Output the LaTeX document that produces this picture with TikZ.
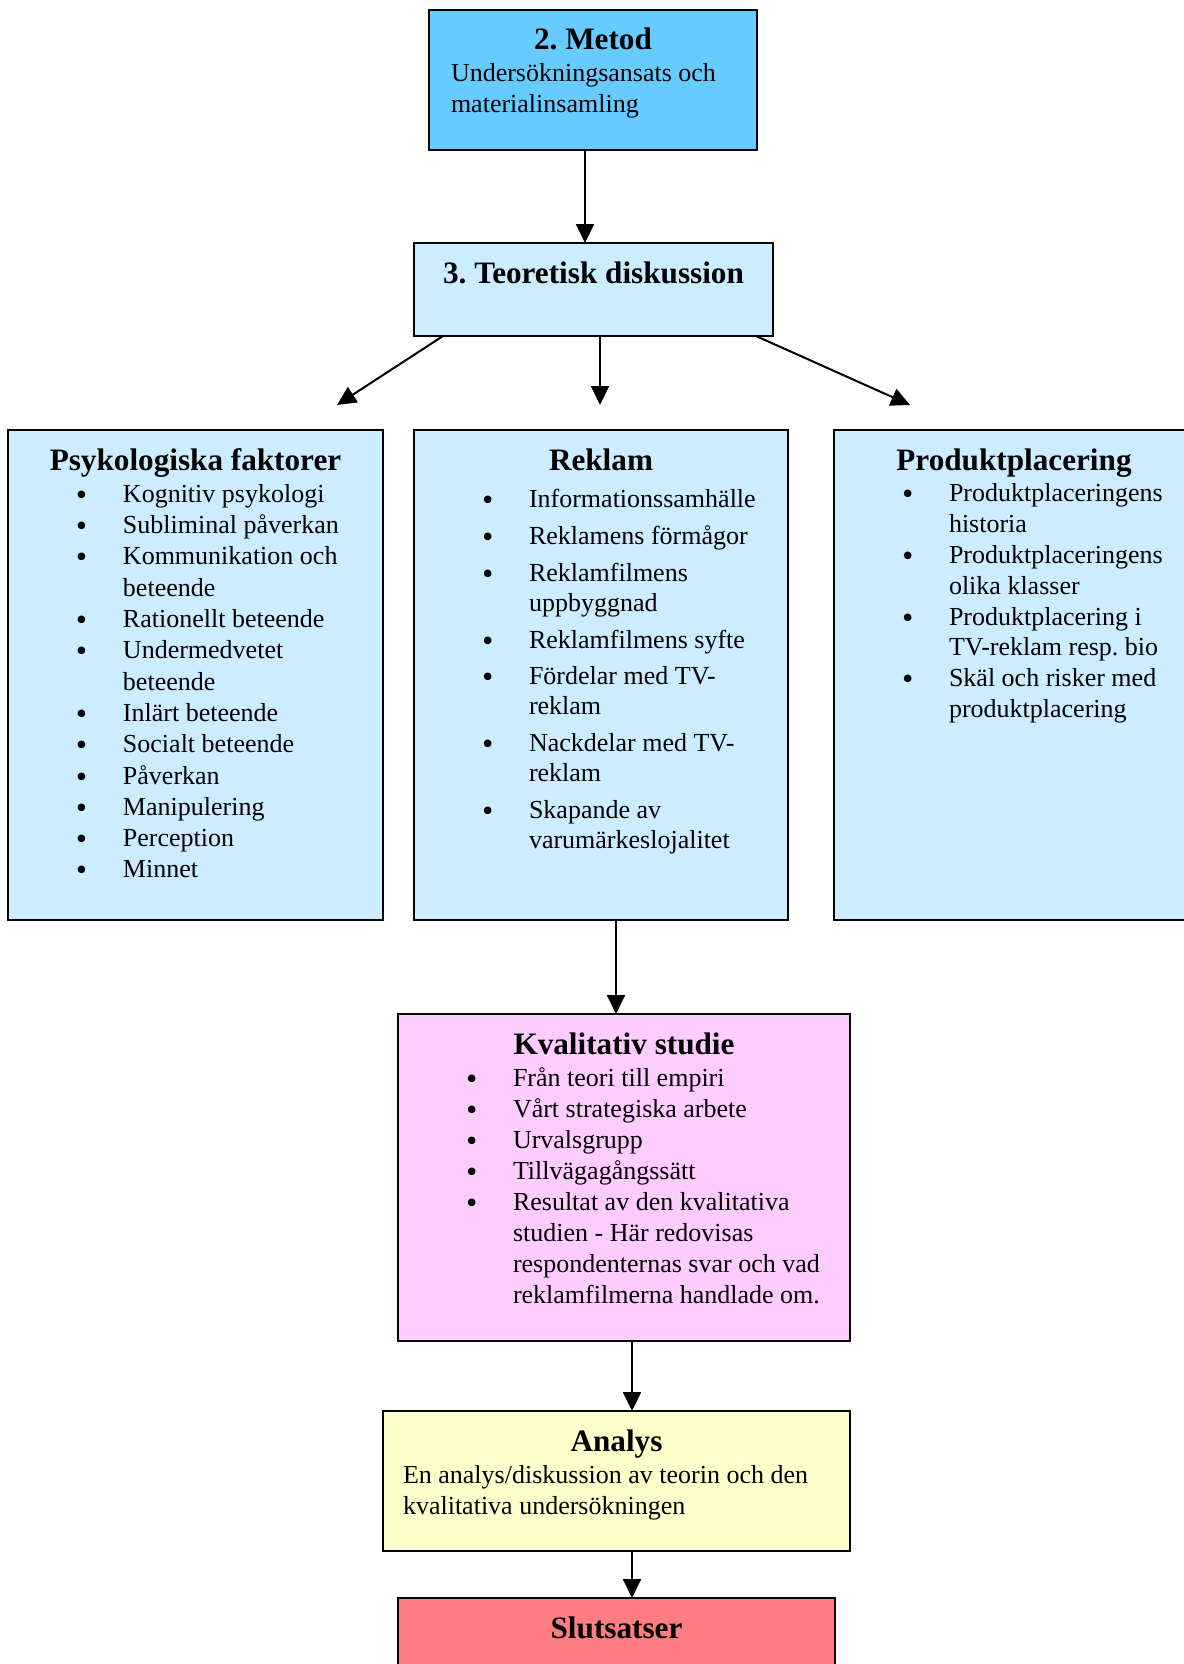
\documentclass[tikz,border=0pt]{standalone}
\usepackage{fontspec}
\setmainfont{Liberation Serif}
\newfontfamily\bulfont{DejaVu Sans}
\usetikzlibrary{arrows.meta,positioning}

\definecolor{metodblue}{HTML}{66CCFF}
\definecolor{teoblue}{HTML}{CCECFF}
\definecolor{studypink}{HTML}{FFCCFF}
\definecolor{analysyellow}{HTML}{FFFFCC}
\definecolor{slutred}{HTML}{FF7C80}

% fixed size box, text set from the top
\newcommand{\boxbody}[3]{\parbox[c][#2][t]{#1}{\fontsize{26}{31}\selectfont #3}}
\newcommand{\boxhead}[1]{{\centering\rule{0pt}{40pt}{\fontsize{31.2}{34}\selectfont\bfseries #1}\par}\vspace{1pt}\raggedright}
\newcommand{\bul}{\par\hangindent=115pt\hangafter=1\noindent\hbox to 115pt{\hspace{66pt}\raisebox{-2pt}{\bulfont\fontsize{26}{31}\selectfont •}\hfil}}

\begin{document}
\begin{tikzpicture}[x=1pt, y=1pt,
  panel/.style={draw, line width=2pt, inner sep=0pt, outer sep=0pt},
  arrow/.style={-{Triangle[length=19pt,width=18pt]}, line width=2pt},
  node distance=94pt
]
\useasboundingbox (0,0) rectangle (1183,-1664);

\node[panel, fill=metodblue, anchor=north] (metod) at (593,-10)
  {\boxbody{328pt}{140pt}{\boxhead{2.\ Metod}\leftskip=22pt
   Undersökningsansats och\\materialinsamling}};
\node[panel, fill=teoblue, below=93pt of metod, xshift=0.5pt] (teo)
  {\boxbody{359pt}{93pt}{\boxhead{3.\ Teoretisk diskussion}}};

\node[panel, fill=teoblue, below=94pt of teo, xshift=7.5pt] (rek)
  {\boxbody{374pt}{490pt}{\fontsize{26}{30.2}\selectfont\parskip=6.5pt
   \boxhead{Reklam}
   \bul Informationssamhälle
   \bul Reklamens förmågor
   \bul Reklamfilmens\newline uppbyggnad
   \bul Reklamfilmens syfte
   \bul Fördelar med TV-\newline reklam
   \bul Nackdelar med TV-\newline reklam
   \bul Skapande av\newline varumärkeslojalitet}};
\node[panel, fill=teoblue, left=31pt of rek] (psyk)
  {\boxbody{375pt}{490pt}{\fontsize{26}{31.3}\selectfont
   \boxhead{Psykologiska faktorer}
   \bul Kognitiv psykologi
   \bul Subliminal påverkan
   \bul Kommunikation och\newline beteende
   \bul Rationellt beteende
   \bul Undermedvetet\newline beteende
   \bul Inlärt beteende
   \bul Socialt beteende
   \bul Påverkan
   \bul Manipulering
   \bul Perception
   \bul Minnet}};
\node[panel, fill=teoblue, right=46pt of rek] (prod)
  {\boxbody{360pt}{490pt}{\fontsize{26}{30.8}\selectfont
   \boxhead{Produktplacering}
   \bul Produktplaceringens\newline historia
   \bul Produktplaceringens\newline olika klasser
   \bul Produktplacering i\newline TV-reklam resp.\ bio
   \bul Skäl och risker med\newline produktplacering}};

\node[panel, fill=studypink, below=94pt of rek, xshift=23pt] (kval)
  {\boxbody{452pt}{327pt}{\boxhead{Kvalitativ studie}
   \bul Från teori till empiri
   \bul Vårt strategiska arbete
   \bul Urvalsgrupp
   \bul Tillvägagångssätt
   \bul Resultat av den kvalitativa\newline studien - Här redovisas\newline
   respondenternas svar och vad\newline reklamfilmerna handlade om.}};
\node[panel, fill=analysyellow, below=70pt of kval, xshift=-7.5pt] (analys)
  {\boxbody{467pt}{140pt}{\boxhead{Analys}\leftskip=20pt
   En analys/diskussion av teorin och den\\kvalitativa undersökningen}};
\node[panel, fill=slutred, below=47pt of analys] (slut)
  {\boxbody{437pt}{110pt}{\boxhead{Slutsatser}}};

\coordinate (toPsyk) at (337,-405);
\coordinate (toRek) at (600,-405);
\coordinate (toProd) at (910,-405);

\draw[arrow] ([xshift=-8pt]metod.south) -- ([xshift=-8.5pt]teo.north);
\draw[arrow] ([xshift=-150.5pt]teo.south) -- (toPsyk);
\draw[arrow] ([xshift=6.5pt]teo.south) -- (toRek);
\draw[arrow] ([xshift=162.5pt]teo.south) -- (toProd);
\draw[arrow] ([xshift=15pt]rek.south) -- ([xshift=-8pt]kval.north);
\draw[arrow] ([xshift=8pt]kval.south) -- ([xshift=15.5pt]analys.north);
\draw[arrow] ([xshift=15.5pt]analys.south) -- ([xshift=15.5pt]slut.north);
\end{tikzpicture}
\end{document}
